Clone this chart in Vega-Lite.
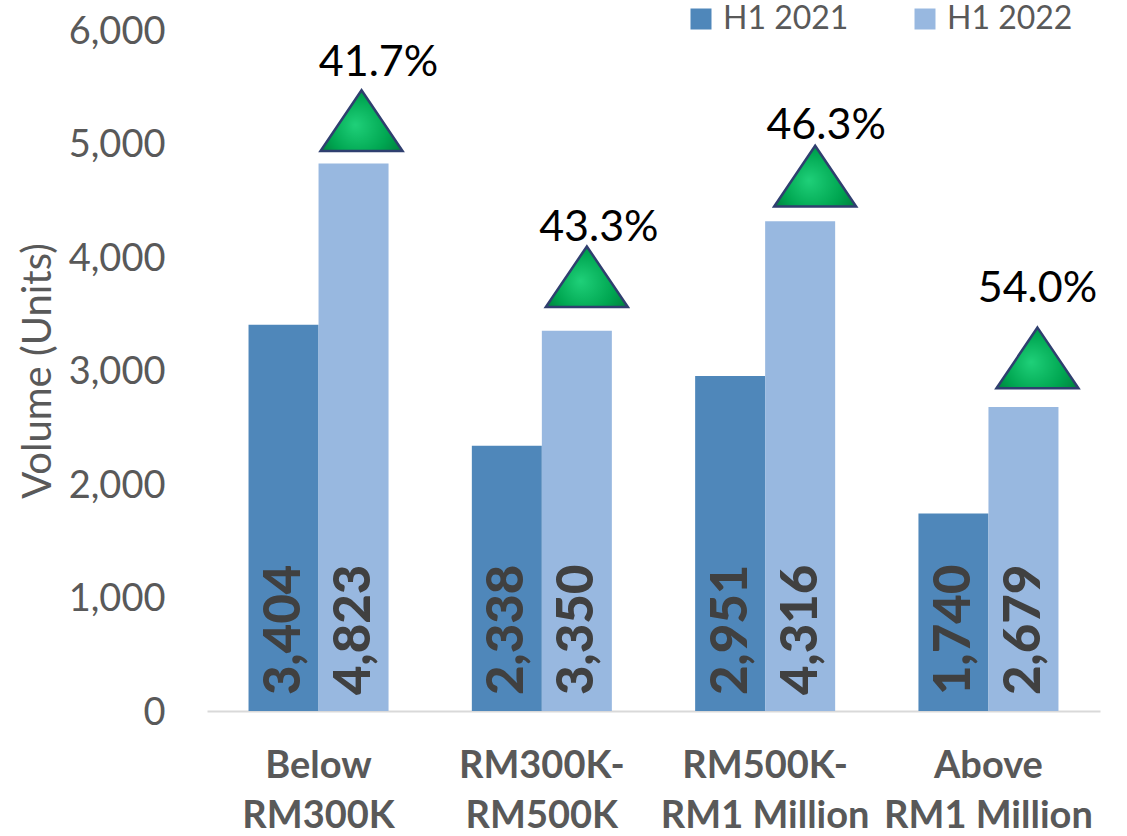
{"$schema":"https://vega.github.io/schema/vega-lite/v6.json","width":893,"height":681,"autosize":{"type":"none"},"padding":{"left":207,"top":30,"right":27,"bottom":125},"background":"white","config":{"view":{"stroke":null},"font":"Lato"},"data":{"values":[{"category":"Below|RM300K","series":"H1 2021","units":3404,"growth":"41.7%"},{"category":"Below|RM300K","series":"H1 2022","units":4823,"growth":"41.7%"},{"category":"RM300K-|RM500K","series":"H1 2021","units":2338,"growth":"43.3%"},{"category":"RM300K-|RM500K","series":"H1 2022","units":3350,"growth":"43.3%"},{"category":"RM500K-|RM1 Million","series":"H1 2021","units":2951,"growth":"46.3%"},{"category":"RM500K-|RM1 Million","series":"H1 2022","units":4316,"growth":"46.3%"},{"category":"Above|RM1 Million","series":"H1 2021","units":1740,"growth":"54.0%"},{"category":"Above|RM1 Million","series":"H1 2022","units":2679,"growth":"54.0%"}]},"encoding":{"x":{"field":"category","type":"nominal","sort":null,"scale":{"paddingInner":0.373,"paddingOuter":0.186},"axis":{"title":null,"labelAngle":0,"labelExpr":"split(datum.label,'|')","labelFont":"Lato","labelFontWeight":"bold","labelFontSize":38,"labelColor":"#595959","labelLineHeight":50,"labelPadding":36,"labelLimit":280,"ticks":false,"domainColor":"#D9D9D9","domainWidth":2}},"xOffset":{"field":"series","type":"nominal"}},"layer":[{"mark":{"type":"bar"},"encoding":{"y":{"field":"units","type":"quantitative","scale":{"domain":[0,6000]},"axis":{"title":"Volume (Units)","titleFont":"Lato","titleFontWeight":"normal","titleFontSize":40,"titleColor":"#595959","titlePadding":10,"format":",d","values":[0,1000,2000,3000,4000,5000,6000],"labelFont":"Lato","labelFontSize":38,"labelColor":"#595959","labelPadding":42,"labelOffset":2,"ticks":false,"domain":false,"grid":false}},"color":{"field":"series","type":"nominal","scale":{"domain":["H1 2021","H1 2022"],"range":["#4F87BA","#98B8E0"]},"legend":{"title":null,"orient":"none","legendX":478,"legendY":-27,"direction":"horizontal","symbolType":"square","symbolSize":441,"symbolStrokeWidth":0,"labelFont":"Lato","labelFontSize":32,"labelColor":"#595959","labelLimit":200,"columnPadding":60,"labelOffset":6}}}},{"mark":{"type":"text","angle":270,"align":"left","baseline":"middle","dx":16,"dy":1.5,"font":"Lato","fontWeight":900,"fontSize":51,"color":"#404040"},"encoding":{"y":{"datum":0,"type":"quantitative"},"text":{"field":"units","type":"quantitative","format":",d"}}},{"transform":[{"filter":"datum.series==='H1 2022' && indexof(datum.category,'Below')===0"}],"layer":[{"mark":{"type":"point","filled":true,"shape":"M0,-0.74L1,0.74L-1,0.74Z","size":6724,"xOffset":43,"yOffset":-43,"opacity":1,"stroke":"#2F3F6F","strokeWidth":2.5,"fill":{"gradient":"radial","x1":0.42,"y1":0.55,"x2":0.5,"y2":0.6,"r1":0,"r2":0.6,"stops":[{"offset":0,"color":"#1FD079"},{"offset":0.6,"color":"#00A651"},{"offset":1,"color":"#007A3A"}]}},"encoding":{"xOffset":null,"y":{"field":"units","type":"quantitative"}}},{"mark":{"type":"text","xOffset":60,"yOffset":-101,"baseline":"middle","font":"Lato","fontSize":43,"color":"#000000"},"encoding":{"xOffset":null,"y":{"field":"units","type":"quantitative"},"text":{"field":"growth"}}}]},{"transform":[{"filter":"datum.series==='H1 2022' && indexof(datum.category,'RM300K-')===0"}],"layer":[{"mark":{"type":"point","filled":true,"shape":"M0,-0.74L1,0.74L-1,0.74Z","size":6724,"xOffset":45,"yOffset":-54,"opacity":1,"stroke":"#2F3F6F","strokeWidth":2.5,"fill":{"gradient":"radial","x1":0.42,"y1":0.55,"x2":0.5,"y2":0.6,"r1":0,"r2":0.6,"stops":[{"offset":0,"color":"#1FD079"},{"offset":0.6,"color":"#00A651"},{"offset":1,"color":"#007A3A"}]}},"encoding":{"xOffset":null,"y":{"field":"units","type":"quantitative"}}},{"mark":{"type":"text","xOffset":57,"yOffset":-103,"baseline":"middle","font":"Lato","fontSize":43,"color":"#000000"},"encoding":{"xOffset":null,"y":{"field":"units","type":"quantitative"},"text":{"field":"growth"}}}]},{"transform":[{"filter":"datum.series==='H1 2022' && indexof(datum.category,'RM500K-')===0"}],"layer":[{"mark":{"type":"point","filled":true,"shape":"M0,-0.74L1,0.74L-1,0.74Z","size":6724,"xOffset":50,"yOffset":-45,"opacity":1,"stroke":"#2F3F6F","strokeWidth":2.5,"fill":{"gradient":"radial","x1":0.42,"y1":0.55,"x2":0.5,"y2":0.6,"r1":0,"r2":0.6,"stops":[{"offset":0,"color":"#1FD079"},{"offset":0.6,"color":"#00A651"},{"offset":1,"color":"#007A3A"}]}},"encoding":{"xOffset":null,"y":{"field":"units","type":"quantitative"}}},{"mark":{"type":"text","xOffset":61,"yOffset":-95,"baseline":"middle","font":"Lato","fontSize":43,"color":"#000000"},"encoding":{"xOffset":null,"y":{"field":"units","type":"quantitative"},"text":{"field":"growth"}}}]},{"transform":[{"filter":"datum.series==='H1 2022' && indexof(datum.category,'Above')===0"}],"layer":[{"mark":{"type":"point","filled":true,"shape":"M0,-0.74L1,0.74L-1,0.74Z","size":6724,"xOffset":49,"yOffset":-49,"opacity":1,"stroke":"#2F3F6F","strokeWidth":2.5,"fill":{"gradient":"radial","x1":0.42,"y1":0.55,"x2":0.5,"y2":0.6,"r1":0,"r2":0.6,"stops":[{"offset":0,"color":"#1FD079"},{"offset":0.6,"color":"#00A651"},{"offset":1,"color":"#007A3A"}]}},"encoding":{"xOffset":null,"y":{"field":"units","type":"quantitative"}}},{"mark":{"type":"text","xOffset":49,"yOffset":-118,"baseline":"middle","font":"Lato","fontSize":43,"color":"#000000"},"encoding":{"xOffset":null,"y":{"field":"units","type":"quantitative"},"text":{"field":"growth"}}}]}]}
